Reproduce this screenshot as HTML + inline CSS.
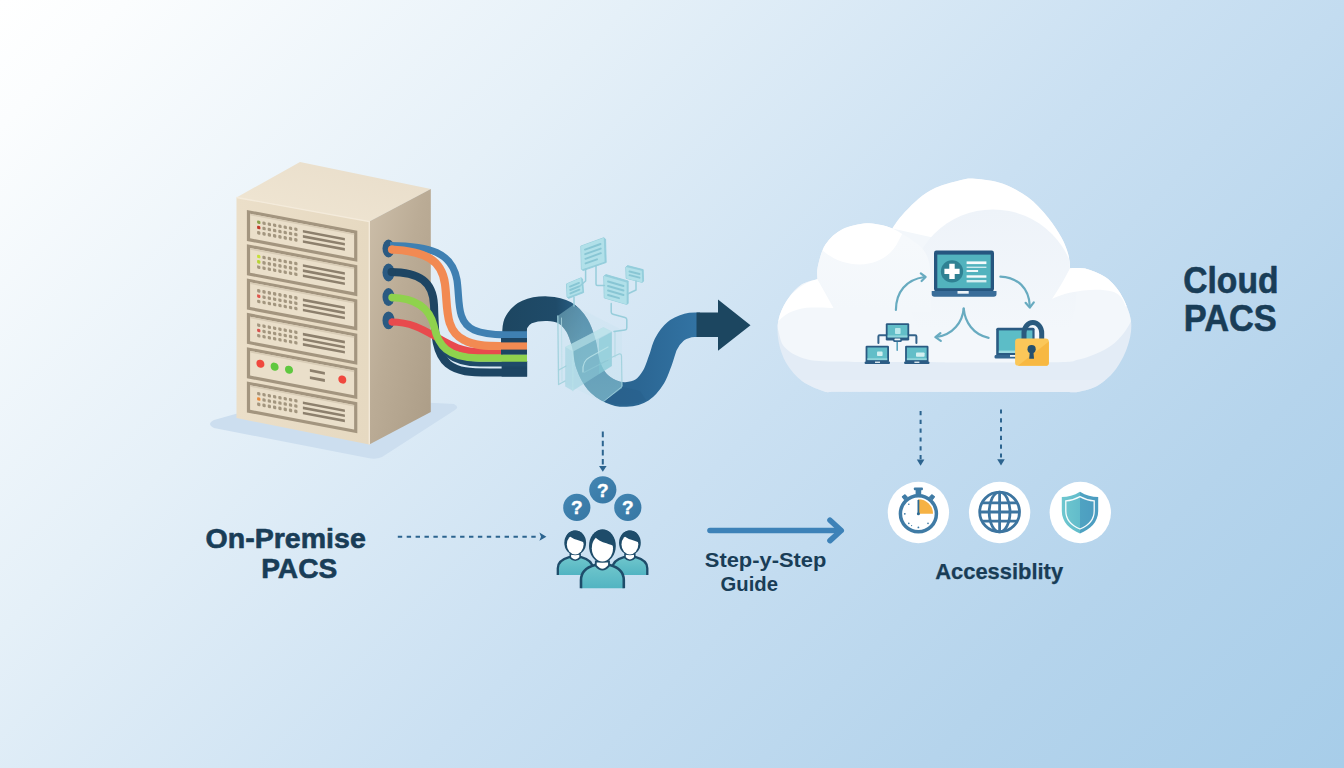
<!DOCTYPE html>
<html>
<head>
<meta charset="utf-8">
<title>On-Premise PACS to Cloud PACS</title>
<style>
  html, body { margin: 0; padding: 0; }
  body { width: 1344px; height: 768px; overflow: hidden; background: #cfe2f3; font-family: "Liberation Sans", sans-serif; }
  svg { display: block; position: absolute; left: 0; top: 0; }
  text { font-family: "Liberation Sans", sans-serif; font-weight: bold; fill: #193d57; stroke: #193d57; stroke-linejoin: round; }
</style>
</head>
<body>
<svg width="1344" height="768" viewBox="0 0 1344 768">
  <defs>
    <linearGradient id="bg" gradientUnits="userSpaceOnUse" x1="0" y1="0" x2="1056" y2="1056">
      <stop offset="0" stop-color="#ffffff"/>
      <stop offset="0.06" stop-color="#fbfdfe"/>
      <stop offset="0.30" stop-color="#e5f0f8"/>
      <stop offset="0.56" stop-color="#cae0f2"/>
      <stop offset="0.80" stop-color="#b5d4ec"/>
      <stop offset="1" stop-color="#a7cde9"/>
    </linearGradient>
    <linearGradient id="sideFace" x1="0" y1="0" x2="1" y2="1">
      <stop offset="0" stop-color="#cdbfaa"/>
      <stop offset="0.45" stop-color="#bbac96"/>
      <stop offset="1" stop-color="#ab9c86"/>
    </linearGradient>
    <linearGradient id="topFace" x1="0" y1="1" x2="1" y2="0">
      <stop offset="0" stop-color="#f0e6d3"/>
      <stop offset="1" stop-color="#e8ddca"/>
    </linearGradient>
    <linearGradient id="frontFace" x1="0" y1="0" x2="1" y2="0">
      <stop offset="0" stop-color="#ebdfc9"/>
      <stop offset="1" stop-color="#e6d9c1"/>
    </linearGradient>
    <linearGradient id="sGrad" gradientUnits="userSpaceOnUse" x1="501" y1="0" x2="697" y2="0">
      <stop offset="0" stop-color="#1d4661"/>
      <stop offset="0.28" stop-color="#1f4b69"/>
      <stop offset="0.42" stop-color="#2b648c"/>
      <stop offset="0.70" stop-color="#2b6693"/>
      <stop offset="1" stop-color="#3273a3"/>
    </linearGradient>
  </defs>

  <!-- background -->
  <rect width="1344" height="768" fill="url(#bg)"/>

  <!-- ================= SERVER ================= -->
  <g id="server">
    <path d="M214 420 L300 396 L454 404 Q460 407 455 410 L382 457 Q376 460 368 458 L214 428 Q206 424 214 420 Z" fill="#ccdeef"/>
    <polygon points="236.5,197.5 300,162 430.8,189 369.3,221.5" fill="url(#topFace)"/>
    <polygon points="369.3,221.5 430.8,189 430.8,412 369.3,444.4" fill="url(#sideFace)"/>
    <polygon points="236.5,197.5 369.3,221.5 369.3,444.4 236.5,418" fill="url(#frontFace)"/>
    <polyline points="236.5,197.5 369.3,221.5 369.3,444.4" fill="none" stroke="#f4ebdb" stroke-width="1.3"/>
    <g transform="translate(236.5,197.5) skewY(10.7)">
      <g transform="translate(10.4,10.5)">
        <rect x="0" y="0" width="110.4" height="31" fill="#a3957f"/>
        <rect x="3.2" y="3.2" width="104" height="24.6" fill="#eadfca"/>
        <rect x="3.2" y="3.2" width="104" height="1.6" fill="#d9cdb7"/>
        <rect x="10.2" y="8.4" width="3.3" height="3.3" rx="1" fill="#8aa04a"/>
        <rect x="15.5" y="8.4" width="3.3" height="3.3" rx="1" fill="#a3967f"/>
        <rect x="20.8" y="8.4" width="3.3" height="3.3" rx="1" fill="#a3967f"/>
        <rect x="26.1" y="8.4" width="3.3" height="3.3" rx="1" fill="#a3967f"/>
        <rect x="31.4" y="8.4" width="3.3" height="3.3" rx="1" fill="#a3967f"/>
        <rect x="36.7" y="8.4" width="3.3" height="3.3" rx="1" fill="#a3967f"/>
        <rect x="42.0" y="8.4" width="3.3" height="3.3" rx="1" fill="#a3967f"/>
        <rect x="47.3" y="8.4" width="3.3" height="3.3" rx="1" fill="#a3967f"/>
        <rect x="10.2" y="13.7" width="3.3" height="3.3" rx="1" fill="#c0392b"/>
        <rect x="15.5" y="13.7" width="3.3" height="3.3" rx="1" fill="#a3967f"/>
        <rect x="20.8" y="13.7" width="3.3" height="3.3" rx="1" fill="#a3967f"/>
        <rect x="26.1" y="13.7" width="3.3" height="3.3" rx="1" fill="#a3967f"/>
        <rect x="31.4" y="13.7" width="3.3" height="3.3" rx="1" fill="#a3967f"/>
        <rect x="36.7" y="13.7" width="3.3" height="3.3" rx="1" fill="#a3967f"/>
        <rect x="42.0" y="13.7" width="3.3" height="3.3" rx="1" fill="#a3967f"/>
        <rect x="47.3" y="13.7" width="3.3" height="3.3" rx="1" fill="#a3967f"/>
        <rect x="10.2" y="19.0" width="3.3" height="3.3" rx="1" fill="#a3967f"/>
        <rect x="15.5" y="19.0" width="3.3" height="3.3" rx="1" fill="#a3967f"/>
        <rect x="20.8" y="19.0" width="3.3" height="3.3" rx="1" fill="#a3967f"/>
        <rect x="26.1" y="19.0" width="3.3" height="3.3" rx="1" fill="#a3967f"/>
        <rect x="31.4" y="19.0" width="3.3" height="3.3" rx="1" fill="#a3967f"/>
        <rect x="36.7" y="19.0" width="3.3" height="3.3" rx="1" fill="#a3967f"/>
        <rect x="42.0" y="19.0" width="3.3" height="3.3" rx="1" fill="#a3967f"/>
        <rect x="47.3" y="19.0" width="3.3" height="3.3" rx="1" fill="#a3967f"/>
        <rect x="56" y="9.4" width="42" height="2.6" fill="#8d806d"/>
        <rect x="56" y="14.5" width="42" height="2.6" fill="#8d806d"/>
        <rect x="56" y="19.6" width="42" height="2.6" fill="#8d806d"/>
      </g>
      <g transform="translate(10.4,44.8)">
        <rect x="0" y="0" width="110.4" height="31" fill="#a3957f"/>
        <rect x="3.2" y="3.2" width="104" height="24.6" fill="#eadfca"/>
        <rect x="3.2" y="3.2" width="104" height="1.6" fill="#d9cdb7"/>
        <rect x="10.2" y="8.4" width="3.3" height="3.3" rx="1" fill="#c7e03a"/>
        <rect x="15.5" y="8.4" width="3.3" height="3.3" rx="1" fill="#a3967f"/>
        <rect x="20.8" y="8.4" width="3.3" height="3.3" rx="1" fill="#a3967f"/>
        <rect x="26.1" y="8.4" width="3.3" height="3.3" rx="1" fill="#a3967f"/>
        <rect x="31.4" y="8.4" width="3.3" height="3.3" rx="1" fill="#a3967f"/>
        <rect x="36.7" y="8.4" width="3.3" height="3.3" rx="1" fill="#a3967f"/>
        <rect x="42.0" y="8.4" width="3.3" height="3.3" rx="1" fill="#a3967f"/>
        <rect x="47.3" y="8.4" width="3.3" height="3.3" rx="1" fill="#a3967f"/>
        <rect x="10.2" y="13.7" width="3.3" height="3.3" rx="1" fill="#b7d433"/>
        <rect x="15.5" y="13.7" width="3.3" height="3.3" rx="1" fill="#a3967f"/>
        <rect x="20.8" y="13.7" width="3.3" height="3.3" rx="1" fill="#a3967f"/>
        <rect x="26.1" y="13.7" width="3.3" height="3.3" rx="1" fill="#a3967f"/>
        <rect x="31.4" y="13.7" width="3.3" height="3.3" rx="1" fill="#a3967f"/>
        <rect x="36.7" y="13.7" width="3.3" height="3.3" rx="1" fill="#a3967f"/>
        <rect x="42.0" y="13.7" width="3.3" height="3.3" rx="1" fill="#a3967f"/>
        <rect x="47.3" y="13.7" width="3.3" height="3.3" rx="1" fill="#a3967f"/>
        <rect x="10.2" y="19.0" width="3.3" height="3.3" rx="1" fill="#a3967f"/>
        <rect x="15.5" y="19.0" width="3.3" height="3.3" rx="1" fill="#a3967f"/>
        <rect x="20.8" y="19.0" width="3.3" height="3.3" rx="1" fill="#a3967f"/>
        <rect x="26.1" y="19.0" width="3.3" height="3.3" rx="1" fill="#a3967f"/>
        <rect x="31.4" y="19.0" width="3.3" height="3.3" rx="1" fill="#a3967f"/>
        <rect x="36.7" y="19.0" width="3.3" height="3.3" rx="1" fill="#a3967f"/>
        <rect x="42.0" y="19.0" width="3.3" height="3.3" rx="1" fill="#a3967f"/>
        <rect x="47.3" y="19.0" width="3.3" height="3.3" rx="1" fill="#a3967f"/>
        <rect x="56" y="9.4" width="42" height="2.6" fill="#8d806d"/>
        <rect x="56" y="14.5" width="42" height="2.6" fill="#8d806d"/>
        <rect x="56" y="19.6" width="42" height="2.6" fill="#8d806d"/>
      </g>
      <g transform="translate(10.4,79.1)">
        <rect x="0" y="0" width="110.4" height="31" fill="#a3957f"/>
        <rect x="3.2" y="3.2" width="104" height="24.6" fill="#eadfca"/>
        <rect x="3.2" y="3.2" width="104" height="1.6" fill="#d9cdb7"/>
        <rect x="10.2" y="8.4" width="3.3" height="3.3" rx="1" fill="#a3967f"/>
        <rect x="15.5" y="8.4" width="3.3" height="3.3" rx="1" fill="#a3967f"/>
        <rect x="20.8" y="8.4" width="3.3" height="3.3" rx="1" fill="#a3967f"/>
        <rect x="26.1" y="8.4" width="3.3" height="3.3" rx="1" fill="#a3967f"/>
        <rect x="31.4" y="8.4" width="3.3" height="3.3" rx="1" fill="#a3967f"/>
        <rect x="36.7" y="8.4" width="3.3" height="3.3" rx="1" fill="#a3967f"/>
        <rect x="42.0" y="8.4" width="3.3" height="3.3" rx="1" fill="#a3967f"/>
        <rect x="47.3" y="8.4" width="3.3" height="3.3" rx="1" fill="#a3967f"/>
        <rect x="10.2" y="13.7" width="3.3" height="3.3" rx="1" fill="#e0564c"/>
        <rect x="15.5" y="13.7" width="3.3" height="3.3" rx="1" fill="#a3967f"/>
        <rect x="20.8" y="13.7" width="3.3" height="3.3" rx="1" fill="#a3967f"/>
        <rect x="26.1" y="13.7" width="3.3" height="3.3" rx="1" fill="#a3967f"/>
        <rect x="31.4" y="13.7" width="3.3" height="3.3" rx="1" fill="#a3967f"/>
        <rect x="36.7" y="13.7" width="3.3" height="3.3" rx="1" fill="#a3967f"/>
        <rect x="42.0" y="13.7" width="3.3" height="3.3" rx="1" fill="#a3967f"/>
        <rect x="47.3" y="13.7" width="3.3" height="3.3" rx="1" fill="#a3967f"/>
        <rect x="10.2" y="19.0" width="3.3" height="3.3" rx="1" fill="#a3967f"/>
        <rect x="15.5" y="19.0" width="3.3" height="3.3" rx="1" fill="#a3967f"/>
        <rect x="20.8" y="19.0" width="3.3" height="3.3" rx="1" fill="#a3967f"/>
        <rect x="26.1" y="19.0" width="3.3" height="3.3" rx="1" fill="#a3967f"/>
        <rect x="31.4" y="19.0" width="3.3" height="3.3" rx="1" fill="#a3967f"/>
        <rect x="36.7" y="19.0" width="3.3" height="3.3" rx="1" fill="#a3967f"/>
        <rect x="42.0" y="19.0" width="3.3" height="3.3" rx="1" fill="#a3967f"/>
        <rect x="47.3" y="19.0" width="3.3" height="3.3" rx="1" fill="#a3967f"/>
        <rect x="56" y="9.4" width="42" height="2.6" fill="#8d806d"/>
        <rect x="56" y="14.5" width="42" height="2.6" fill="#8d806d"/>
        <rect x="56" y="19.6" width="42" height="2.6" fill="#8d806d"/>
      </g>
      <g transform="translate(10.4,113.4)">
        <rect x="0" y="0" width="110.4" height="31" fill="#a3957f"/>
        <rect x="3.2" y="3.2" width="104" height="24.6" fill="#eadfca"/>
        <rect x="3.2" y="3.2" width="104" height="1.6" fill="#d9cdb7"/>
        <rect x="10.2" y="8.4" width="3.3" height="3.3" rx="1" fill="#a3967f"/>
        <rect x="15.5" y="8.4" width="3.3" height="3.3" rx="1" fill="#a3967f"/>
        <rect x="20.8" y="8.4" width="3.3" height="3.3" rx="1" fill="#a3967f"/>
        <rect x="26.1" y="8.4" width="3.3" height="3.3" rx="1" fill="#a3967f"/>
        <rect x="31.4" y="8.4" width="3.3" height="3.3" rx="1" fill="#a3967f"/>
        <rect x="36.7" y="8.4" width="3.3" height="3.3" rx="1" fill="#a3967f"/>
        <rect x="42.0" y="8.4" width="3.3" height="3.3" rx="1" fill="#a3967f"/>
        <rect x="47.3" y="8.4" width="3.3" height="3.3" rx="1" fill="#a3967f"/>
        <rect x="10.2" y="13.7" width="3.3" height="3.3" rx="1" fill="#d9534f"/>
        <rect x="15.5" y="13.7" width="3.3" height="3.3" rx="1" fill="#a3967f"/>
        <rect x="20.8" y="13.7" width="3.3" height="3.3" rx="1" fill="#a3967f"/>
        <rect x="26.1" y="13.7" width="3.3" height="3.3" rx="1" fill="#a3967f"/>
        <rect x="31.4" y="13.7" width="3.3" height="3.3" rx="1" fill="#a3967f"/>
        <rect x="36.7" y="13.7" width="3.3" height="3.3" rx="1" fill="#a3967f"/>
        <rect x="42.0" y="13.7" width="3.3" height="3.3" rx="1" fill="#a3967f"/>
        <rect x="47.3" y="13.7" width="3.3" height="3.3" rx="1" fill="#a3967f"/>
        <rect x="10.2" y="19.0" width="3.3" height="3.3" rx="1" fill="#a3967f"/>
        <rect x="15.5" y="19.0" width="3.3" height="3.3" rx="1" fill="#a3967f"/>
        <rect x="20.8" y="19.0" width="3.3" height="3.3" rx="1" fill="#a3967f"/>
        <rect x="26.1" y="19.0" width="3.3" height="3.3" rx="1" fill="#a3967f"/>
        <rect x="31.4" y="19.0" width="3.3" height="3.3" rx="1" fill="#a3967f"/>
        <rect x="36.7" y="19.0" width="3.3" height="3.3" rx="1" fill="#a3967f"/>
        <rect x="42.0" y="19.0" width="3.3" height="3.3" rx="1" fill="#a3967f"/>
        <rect x="47.3" y="19.0" width="3.3" height="3.3" rx="1" fill="#a3967f"/>
        <rect x="56" y="9.4" width="42" height="2.6" fill="#8d806d"/>
        <rect x="56" y="14.5" width="42" height="2.6" fill="#8d806d"/>
        <rect x="56" y="19.6" width="42" height="2.6" fill="#8d806d"/>
      </g>
      <g transform="translate(10.4,147.7)">
        <rect x="0" y="0" width="110.4" height="31" fill="#a3957f"/>
        <rect x="3.2" y="3.2" width="104" height="24.6" fill="#eadfca"/>
        <rect x="3.2" y="3.2" width="104" height="1.6" fill="#d9cdb7"/>
        <circle cx="13.5" cy="14" r="4" fill="#f0483e"/>
        <circle cx="27.7" cy="14.3" r="4" fill="#5fc83f"/>
        <circle cx="42.1" cy="14.6" r="4" fill="#5fc83f"/>
        <rect x="63" y="10" width="15" height="2.8" fill="#8d806d"/>
        <rect x="63" y="17.2" width="15" height="2.8" fill="#8d806d"/>
        <circle cx="95.4" cy="14.4" r="4" fill="#f0483e"/>
      </g>
      <g transform="translate(10.4,182.0)">
        <rect x="0" y="0" width="110.4" height="31" fill="#a3957f"/>
        <rect x="3.2" y="3.2" width="104" height="24.6" fill="#eadfca"/>
        <rect x="3.2" y="3.2" width="104" height="1.6" fill="#d9cdb7"/>
        <rect x="10.2" y="8.4" width="3.3" height="3.3" rx="1" fill="#a3967f"/>
        <rect x="15.5" y="8.4" width="3.3" height="3.3" rx="1" fill="#a3967f"/>
        <rect x="20.8" y="8.4" width="3.3" height="3.3" rx="1" fill="#a3967f"/>
        <rect x="26.1" y="8.4" width="3.3" height="3.3" rx="1" fill="#a3967f"/>
        <rect x="31.4" y="8.4" width="3.3" height="3.3" rx="1" fill="#a3967f"/>
        <rect x="36.7" y="8.4" width="3.3" height="3.3" rx="1" fill="#a3967f"/>
        <rect x="42.0" y="8.4" width="3.3" height="3.3" rx="1" fill="#a3967f"/>
        <rect x="47.3" y="8.4" width="3.3" height="3.3" rx="1" fill="#a3967f"/>
        <rect x="10.2" y="13.7" width="3.3" height="3.3" rx="1" fill="#e8893a"/>
        <rect x="15.5" y="13.7" width="3.3" height="3.3" rx="1" fill="#a3967f"/>
        <rect x="20.8" y="13.7" width="3.3" height="3.3" rx="1" fill="#a3967f"/>
        <rect x="26.1" y="13.7" width="3.3" height="3.3" rx="1" fill="#a3967f"/>
        <rect x="31.4" y="13.7" width="3.3" height="3.3" rx="1" fill="#a3967f"/>
        <rect x="36.7" y="13.7" width="3.3" height="3.3" rx="1" fill="#a3967f"/>
        <rect x="42.0" y="13.7" width="3.3" height="3.3" rx="1" fill="#a3967f"/>
        <rect x="47.3" y="13.7" width="3.3" height="3.3" rx="1" fill="#a3967f"/>
        <rect x="10.2" y="19.0" width="3.3" height="3.3" rx="1" fill="#a3967f"/>
        <rect x="15.5" y="19.0" width="3.3" height="3.3" rx="1" fill="#a3967f"/>
        <rect x="20.8" y="19.0" width="3.3" height="3.3" rx="1" fill="#a3967f"/>
        <rect x="26.1" y="19.0" width="3.3" height="3.3" rx="1" fill="#a3967f"/>
        <rect x="31.4" y="19.0" width="3.3" height="3.3" rx="1" fill="#a3967f"/>
        <rect x="36.7" y="19.0" width="3.3" height="3.3" rx="1" fill="#a3967f"/>
        <rect x="42.0" y="19.0" width="3.3" height="3.3" rx="1" fill="#a3967f"/>
        <rect x="47.3" y="19.0" width="3.3" height="3.3" rx="1" fill="#a3967f"/>
        <rect x="56" y="9.4" width="42" height="2.6" fill="#8d806d"/>
        <rect x="56" y="14.5" width="42" height="2.6" fill="#8d806d"/>
        <rect x="56" y="19.6" width="42" height="2.6" fill="#8d806d"/>
      </g>
    </g>
    <ellipse cx="388.5" cy="248.5" rx="6" ry="8.9" fill="#2a5a82"/>
    <ellipse cx="388.5" cy="272.5" rx="6" ry="8.9" fill="#2a5a82"/>
    <ellipse cx="388.5" cy="297" rx="6" ry="8.9" fill="#2a5a82"/>
    <ellipse cx="388.5" cy="320.4" rx="6" ry="8.9" fill="#2a5a82"/>
  </g>

  <!-- ================= S-CURVE ARROW ================= -->
  <g id="sarrow">
    <defs>
      <linearGradient id="tintG" gradientUnits="userSpaceOnUse" x1="0" y1="305" x2="0" y2="402">
        <stop offset="0" stop-color="#74bccb" stop-opacity="0.30"/>
        <stop offset="0.45" stop-color="#7cc3d1" stop-opacity="0.44"/>
        <stop offset="1" stop-color="#80c6d3" stop-opacity="0.52"/>
      </linearGradient>
      <clipPath id="glassClip"><polygon points="557.6,316 573,305 622,330 622,388 603,402 557.6,380"/></clipPath>
    </defs>
    <path d="M514.5 345.0 C514.5 343.0 514.2 336.8 514.5 333.0 C514.8 329.2 514.4 325.5 516.5 322.0 C518.6 318.5 521.8 314.2 527.0 312.0 C532.2 309.8 541.2 308.5 547.5 308.7 C553.8 308.9 560.1 310.2 565.0 313.0 C569.9 315.8 573.8 320.3 577.0 325.5 C580.2 330.7 582.2 337.5 584.0 344.0 C585.8 350.5 585.8 358.2 588.0 364.5 C590.2 370.8 593.2 377.0 597.0 381.5 C600.8 386.0 606.2 389.3 611.0 391.5 C615.8 393.7 620.8 394.8 626.0 394.5 C631.2 394.2 637.4 392.9 642.0 390.0 C646.6 387.1 650.4 382.0 653.5 377.0 C656.6 372.0 658.4 365.5 660.5 360.0 C662.6 354.5 663.5 348.8 666.0 344.0 C668.5 339.2 671.8 334.6 675.5 331.5 C679.2 328.4 684.4 326.7 688.0 325.6 C691.6 324.5 695.0 324.9 697.0 324.8 C699.0 324.7 699.5 324.8 700.0 324.8" fill="none" stroke="url(#sGrad)" stroke-width="24.6"/>
    <rect x="501.6" y="361" width="25.6" height="15.6" fill="#1d4563"/>
    <!-- darker fold at bottom of U -->
    <path d="M603 401.5 L622 386.8 L640 391 L646 400 Q626 408 603 401.5 Z" fill="#235a84" opacity="0.28"/>
    <!-- tinted part of ribbon behind glass -->
    <path d="M514.5 345.0 C514.5 343.0 514.2 336.8 514.5 333.0 C514.8 329.2 514.4 325.5 516.5 322.0 C518.6 318.5 521.8 314.2 527.0 312.0 C532.2 309.8 541.2 308.5 547.5 308.7 C553.8 308.9 560.1 310.2 565.0 313.0 C569.9 315.8 573.8 320.3 577.0 325.5 C580.2 330.7 582.2 337.5 584.0 344.0 C585.8 350.5 585.8 358.2 588.0 364.5 C590.2 370.8 593.2 377.0 597.0 381.5 C600.8 386.0 606.2 389.3 611.0 391.5 C615.8 393.7 620.8 394.8 626.0 394.5 C631.2 394.2 637.4 392.9 642.0 390.0 C646.6 387.1 650.4 382.0 653.5 377.0 C656.6 372.0 658.4 365.5 660.5 360.0 C662.6 354.5 663.5 348.8 666.0 344.0 C668.5 339.2 671.8 334.6 675.5 331.5 C679.2 328.4 684.4 326.7 688.0 325.6 C691.6 324.5 695.0 324.9 697.0 324.8 C699.0 324.7 699.5 324.8 700.0 324.8" fill="none" stroke="url(#tintG)" stroke-width="24.6" clip-path="url(#glassClip)"/>
    <!-- arrow tail + head -->
    <path d="M696.5 312.5 L718 312.5 L718 299.5 L750.5 325.3 L718 350.8 L718 337 L696.5 337 Z" fill="#1c4660"/>
  </g>


  <!-- ================= CABLES ================= -->
  <g id="cables" fill="none" stroke-linecap="butt">
    <!-- navy (port 2) lower branch -->
    <path d="M390 272 C 420 272, 433 282, 434 305 C 435 330, 434 352, 448 364 C 458 372, 470 372.5, 490 372.5 L 527 372.5" stroke="#1d4563" stroke-width="8"/>
    <!-- navy upper branch -->
    <path d="M436 330 C 438 352, 452 364, 480 364 L 527 364" stroke="#1f4a69" stroke-width="5"/>
    <!-- red (port 4) -->
    <path d="M391 322 C 412 322, 424 330, 438 338 C 452 346, 462 351.5, 480 351.8 L 503 352" stroke="#e84a4d" stroke-width="7.2"/>
    <!-- green (port 3) -->
    <path d="M391 297.5 C 418 298, 430 310, 434 326 C 438 346, 448 357.5, 478 358 L 527 358" stroke="#8fd24d" stroke-width="7.4"/>
    <!-- blue (port 1, behind orange) -->
    <path d="M390 245.5 C 430 246, 452 252, 457 280 C 460 300, 456 322, 474 330 C 484 334.5, 494 334.8, 505 334.8 L 527 334.8" stroke="#3f80b2" stroke-width="7.2"/>
    <!-- orange (port 1) -->
    <path d="M391 249.5 C 425 251, 442 260, 445 284 C 448 306, 444 330, 464 340 C 474 345.5, 486 346, 500 346 L 527 346" stroke="#f28a52" stroke-width="8.2"/>
    <!-- rounded cable starts -->
    <circle cx="391.5" cy="272" r="4" fill="#1d4563" stroke="none"/>
    <circle cx="392" cy="322" r="3.6" fill="#e84a4d" stroke="none"/>
    <circle cx="392" cy="297.5" r="3.7" fill="#8fd24d" stroke="none"/>
    <circle cx="392" cy="249.5" r="4.1" fill="#f28a52" stroke="none"/>
    <!-- dark gaps in bundle near S -->
    <rect x="501" y="338" width="26" height="4.4" fill="#1d4563" stroke="none"/>
    <rect x="501" y="349.6" width="26" height="5" fill="#1d4563" stroke="none"/>
  </g>
  <!-- ================= GLASS SERVER OVERLAY ================= -->
  <g id="glass" stroke-linejoin="round" stroke-linecap="round">
    <!-- tall back panel -->
    <polygon points="557.6,316 573,305 622,330 622,388 603,402 557.6,380" fill="#bfe3ea" fill-opacity="0.20"/>
    <path d="M557.8 316 L558.6 384.5 L565 381" fill="none" stroke="#9fd0dc" stroke-width="1.3" stroke-opacity="0.9"/>
    <path d="M561.5 318 L562 381" fill="none" stroke="#b5dde6" stroke-width="0.9" stroke-opacity="0.8"/>
    <!-- front block -->
    <polygon points="565.2,347 603.3,327.3 611.8,331.5 611.8,366 572.8,390.8 565.2,386.5" fill="#93cfdb" fill-opacity="0.5"/>
    <polygon points="565.2,347 603.3,327.3 611.8,331.5 573,351.5" fill="#c9ebef" fill-opacity="0.5"/>
    <polygon points="599,339 611.8,332 611.8,366 599,374" fill="#7fc8d4" fill-opacity="0.5"/>
    <path d="M573 351.5 L572.8 390.8" fill="none" stroke="#b9e2e8" stroke-width="1" stroke-opacity="0.8"/>
    <!-- inner slot outline -->
    <path d="M583 372 Q582 361 590 357 L608 347" fill="none" stroke="#b9e2e8" stroke-width="1.2" stroke-opacity="0.85"/>
    <path d="M584 372.5 L608 360" fill="none" stroke="#8cc6d3" stroke-width="1.2" stroke-opacity="0.8"/>
    <!-- loop outline on right -->
    <path d="M558.8 370 L566 366 M606 360 L619 354 Q621.5 353.5 621.5 356 L622 386" fill="none" stroke="#9fd0dc" stroke-width="1.2" stroke-opacity="0.9"/>
    <path d="M615 332 L615 357" fill="none" stroke="#a9d6e0" stroke-width="1" stroke-opacity="0.8"/>
    <!-- bottom-right glass edge highlight on ribbon -->
    <path d="M603.3 401.8 L622 386.5" fill="none" stroke="#a7d5df" stroke-width="1" stroke-opacity="0.7"/>

    <!-- floating boxes -->
    <g fill="#8ecbd9" fill-opacity="0.9" stroke="#8ecbd9" stroke-width="0.8">
      <polygon points="581.1,246 603.8,237.7 605.6,239.2 606.2,262.5 583.2,270.6 581.7,269.5"/>
      <polygon points="566.8,283.8 581.1,277.8 582.6,279 583.6,292.6 568.6,298.4 567.3,297.3"/>
      <polygon points="604,276 606,274.6 628.2,281 628.2,303.4 626.7,304.4 604.6,298"/>
      <polygon points="626,266.9 627.6,265.6 643.2,269.6 643.6,281 642.3,282.4 626.5,278.4"/>
    </g>
    <g fill="#b2e0e9" fill-opacity="0.95" stroke="none">
      <polygon points="581.1,246 603.8,237.7 604.6,261.7 581.7,269.5"/>
      <polygon points="566.8,283.8 581.1,277.8 582.4,291.6 567.3,297.3"/>
      <polygon points="604,276 626.7,282.5 626.7,304.4 604.6,298"/>
      <polygon points="626,266.9 641.8,270.8 642.3,282.4 626.5,278.4"/>
    </g>
    <!-- lines on boxes -->
    <g stroke="#86c4d3" stroke-width="1.9" stroke-opacity="0.95" fill="none">
      <path d="M585 249.6 L600.5 244 M585.2 254.2 L600.7 248.6 M585.4 258.8 L600.9 253.2 M585.6 263.4 L597 259.3"/>
      <path d="M570 286.6 L579 282.9 M570.2 290 L579.2 286.3 M570.4 293.4 L579.4 289.7"/>
      <path d="M608 281.5 L623.5 286 M608 286 L623.5 290.5 M608 290.5 L623.5 295 M608 295 L619 298.2"/>
      <path d="M629.5 271.5 L639.5 274 M629.5 275.2 L639.5 277.7"/>
    </g>
    <!-- connector wires -->
    <g stroke="#93cbd9" stroke-width="1.5" fill="none" stroke-opacity="0.95">
      <path d="M585.6 269 L585.6 281 L580 286"/>
      <path d="M596 266 L596 284 Q596 285.5 597.5 285.5 L604.4 285.5"/>
      <path d="M636 281 L636 290 L627.5 294"/>
      <path d="M611.2 303.5 L611.2 312 Q611.2 313.8 613 314.3 L625 317.4 Q626.8 317.9 626.8 319.8 L626.8 328 Q626.8 329.8 625 330 L614 331.5"/>
      <path d="M574 297.6 L574 306"/>
    </g>
  </g>

  <!-- ================= CLOUD ================= -->
  <g id="cloud">
    <defs>
      <clipPath id="cloudClip"><path d="M832 391.8 C830.6 391.7 828.6 393.1 823.6 391.3 C818.6 389.5 808.2 385.6 802.0 381.0 C795.8 376.4 790.4 370.0 786.5 363.5 C782.6 357.0 780.1 349.1 778.7 342.0 C777.3 334.9 777.0 327.4 778.3 320.6 C779.6 313.8 782.9 306.9 786.5 301.0 C790.1 295.1 795.1 289.0 800.2 285.4 C805.4 281.8 814.5 280.2 817.4 279.1 C817.5 277.0 816.5 272.3 817.8 266.5 C819.1 260.7 821.3 250.7 825.4 244.5 C829.5 238.3 835.5 232.8 842.3 229.3 C849.1 225.8 859.5 224.0 866.0 223.3 C872.5 222.6 876.9 224.2 881.3 225.0 C885.7 225.8 890.5 227.8 892.3 228.4 C893.8 226.3 897.2 220.6 901.6 215.7 C906.0 210.8 912.9 203.5 918.5 198.8 C924.1 194.2 928.6 190.9 935.5 187.8 C942.4 184.7 953.4 181.7 960.0 180.2 C966.6 178.7 968.2 178.2 975.2 178.8 C982.2 179.4 993.5 180.4 1002.3 183.5 C1011.0 186.6 1020.1 191.4 1027.7 197.1 C1035.3 202.8 1042.3 210.6 1048.0 217.4 C1053.7 224.2 1058.2 231.5 1061.6 237.7 C1065.0 243.9 1067.0 249.6 1068.4 254.7 C1069.8 259.8 1069.7 265.9 1070.0 268.2 C1072.9 268.4 1081.1 267.4 1087.5 269.2 C1093.9 271.0 1102.4 274.4 1108.3 279.2 C1114.2 284.0 1119.1 290.6 1122.9 297.9 C1126.7 305.2 1130.5 314.6 1131.2 322.9 C1131.9 331.2 1129.8 339.9 1127.0 347.9 C1124.2 355.9 1119.4 364.6 1114.6 370.8 C1109.8 377.1 1103.8 381.9 1097.9 385.4 C1092.0 388.9 1084.0 390.6 1079.0 391.7 C1074.0 392.8 1069.8 391.9 1068.0 392.0 Z"/></clipPath>
      <clipPath id="bumpClip"><path d="M892.3 228.4 C893.8 226.3 897.2 220.6 901.6 215.7 C906.0 210.8 912.9 203.5 918.5 198.8 C924.1 194.2 928.6 190.9 935.5 187.8 C942.4 184.7 953.4 181.7 960.0 180.2 C966.6 178.7 968.2 178.2 975.2 178.8 C982.2 179.4 993.5 180.4 1002.3 183.5 C1011.0 186.6 1020.1 191.4 1027.7 197.1 C1035.3 202.8 1042.3 210.6 1048.0 217.4 C1053.7 224.2 1058.2 231.5 1061.6 237.7 C1065.0 243.9 1067.0 249.6 1068.4 254.7 C1069.8 259.8 1069.7 265.9 1070.0 268.2 Z"/></clipPath>
      <clipPath id="leftBumpClip"><path d="M817.4 279.1 C817.5 277.0 816.5 272.3 817.8 266.5 C819.1 260.7 821.3 250.7 825.4 244.5 C829.5 238.3 835.5 232.8 842.3 229.3 C849.1 225.8 859.5 224.0 866.0 223.3 C872.5 222.6 876.9 224.2 881.3 225.0 C885.7 225.8 888.3 226.7 892.3 228.4 C896.2 230.2 901.0 233.1 905.0 235.5 C909.0 237.9 912.9 240.6 916.0 243.0 C919.1 245.4 921.3 246.8 923.5 250.0 C925.7 253.2 927.8 257.0 929.0 262.0 C930.2 267.0 930.7 277.0 931.0 280.0 L931 312 L838 312 Z"/></clipPath>
      <clipPath id="upperClip"><path d="M760 160 L770 300 C771.3 304.7 775.3 320.6 777.7 328.4 C780.1 336.2 780.1 342.0 784.5 347.0 C788.9 352.0 795.9 356.0 804.0 358.4 C812.1 360.8 817.4 361.0 833.4 361.6 C849.4 362.2 863.9 361.9 900.0 362.0 C936.1 362.1 1020.2 362.6 1050.0 362.2 C1079.8 361.8 1070.7 361.1 1079.0 359.4 C1087.3 357.7 1094.1 354.7 1100.0 352.0 C1105.9 349.3 1110.3 346.7 1114.6 343.0 C1118.9 339.3 1122.8 334.7 1126.0 330.0 C1129.2 325.3 1131.7 320.0 1134.0 315.0 C1136.3 310.0 1139.0 302.5 1140.0 300.0 L1150 160 Z"/></clipPath>
      <linearGradient id="discG" gradientUnits="userSpaceOnUse" x1="0" y1="209" x2="0" y2="330">
        <stop offset="0" stop-color="#eef3f9"/>
        <stop offset="1" stop-color="#f3f7fb"/>
      </linearGradient>
      <linearGradient id="lbG" gradientUnits="userSpaceOnUse" x1="0" y1="240" x2="0" y2="310">
        <stop offset="0" stop-color="#f6f9fc"/>
        <stop offset="1" stop-color="#f3f7fb"/>
      </linearGradient>
    </defs>
    <path d="M832 391.8 C830.6 391.7 828.6 393.1 823.6 391.3 C818.6 389.5 808.2 385.6 802.0 381.0 C795.8 376.4 790.4 370.0 786.5 363.5 C782.6 357.0 780.1 349.1 778.7 342.0 C777.3 334.9 777.0 327.4 778.3 320.6 C779.6 313.8 782.9 306.9 786.5 301.0 C790.1 295.1 795.1 289.0 800.2 285.4 C805.4 281.8 814.5 280.2 817.4 279.1 C817.5 277.0 816.5 272.3 817.8 266.5 C819.1 260.7 821.3 250.7 825.4 244.5 C829.5 238.3 835.5 232.8 842.3 229.3 C849.1 225.8 859.5 224.0 866.0 223.3 C872.5 222.6 876.9 224.2 881.3 225.0 C885.7 225.8 890.5 227.8 892.3 228.4 C893.8 226.3 897.2 220.6 901.6 215.7 C906.0 210.8 912.9 203.5 918.5 198.8 C924.1 194.2 928.6 190.9 935.5 187.8 C942.4 184.7 953.4 181.7 960.0 180.2 C966.6 178.7 968.2 178.2 975.2 178.8 C982.2 179.4 993.5 180.4 1002.3 183.5 C1011.0 186.6 1020.1 191.4 1027.7 197.1 C1035.3 202.8 1042.3 210.6 1048.0 217.4 C1053.7 224.2 1058.2 231.5 1061.6 237.7 C1065.0 243.9 1067.0 249.6 1068.4 254.7 C1069.8 259.8 1069.7 265.9 1070.0 268.2 C1072.9 268.4 1081.1 267.4 1087.5 269.2 C1093.9 271.0 1102.4 274.4 1108.3 279.2 C1114.2 284.0 1119.1 290.6 1122.9 297.9 C1126.7 305.2 1130.5 314.6 1131.2 322.9 C1131.9 331.2 1129.8 339.9 1127.0 347.9 C1124.2 355.9 1119.4 364.6 1114.6 370.8 C1109.8 377.1 1103.8 381.9 1097.9 385.4 C1092.0 388.9 1084.0 390.6 1079.0 391.7 C1074.0 392.8 1069.8 391.9 1068.0 392.0 Z" fill="#e3ecf6"/>
    <g clip-path="url(#cloudClip)">
      <!-- upper body -->
      <path d="M760 160 L770 300 C771.3 304.7 775.3 320.6 777.7 328.4 C780.1 336.2 780.1 342.0 784.5 347.0 C788.9 352.0 795.9 356.0 804.0 358.4 C812.1 360.8 817.4 361.0 833.4 361.6 C849.4 362.2 863.9 361.9 900.0 362.0 C936.1 362.1 1020.2 362.6 1050.0 362.2 C1079.8 361.8 1070.7 361.1 1079.0 359.4 C1087.3 357.7 1094.1 354.7 1100.0 352.0 C1105.9 349.3 1110.3 346.7 1114.6 343.0 C1118.9 339.3 1122.8 334.7 1126.0 330.0 C1129.2 325.3 1131.7 320.0 1134.0 315.0 C1136.3 310.0 1139.0 302.5 1140.0 300.0 L1150 160 Z" fill="#f3f7fb"/>
      <!-- bottom soft lightening -->
      <rect x="770" y="380" width="370" height="14" fill="#e8f0f8" opacity="0.7"/>
      <!-- far-left lobe highlight -->
      <path d="M817.4 279.1 C 800 283, 781 300, 778.3 321.5 C 786 312, 798 308, 812 307.5 C 820 307.2, 828 307.6, 833.5 308 Z" fill="#ffffff" opacity="0.95"/>
      <!-- big bump: white rim then inner disc -->
      <g clip-path="url(#bumpClip)">
        <rect x="885" y="170" width="195" height="110" fill="#ffffff"/>
      </g>
      <g clip-path="url(#upperClip)"><ellipse cx="993" cy="293.7" rx="83.4" ry="84.3" fill="url(#discG)"/></g>
      <!-- left bump body + lens highlight -->
      <path d="M817.4 279.1 C817.5 277.0 816.5 272.3 817.8 266.5 C819.1 260.7 821.3 250.7 825.4 244.5 C829.5 238.3 835.5 232.8 842.3 229.3 C849.1 225.8 859.5 224.0 866.0 223.3 C872.5 222.6 876.9 224.2 881.3 225.0 C885.7 225.8 888.3 226.7 892.3 228.4 C896.2 230.2 901.0 233.1 905.0 235.5 C909.0 237.9 912.9 240.6 916.0 243.0 C919.1 245.4 921.3 246.8 923.5 250.0 C925.7 253.2 927.8 257.0 929.0 262.0 C930.2 267.0 930.7 277.0 931.0 280.0 L931 312 L838 312 Z" fill="url(#lbG)"/>
      <g clip-path="url(#leftBumpClip)">
        <path d="M812 238 C 822 254, 840 264.6, 860 264.4 C 879 264, 893 254, 899 240 L912 215 L812 215 Z" fill="#ffffff"/>
      </g>
      <!-- right lobe highlight (drawn over disc) -->
      <path d="M1070 268.2 L1090 262 L1120 268 L1140 300 L1125.5 306.5 C 1123 298, 1119 293.5, 1112 291.6 C 1104 289.6, 1094 289.4, 1083.3 290.6 C 1070 292.2, 1060 295, 1052 299 C 1058 290, 1064 280, 1070 268.2 Z" fill="#ffffff" opacity="0.96"/>
      <!-- re-blend lower parts of discs into body -->
      <rect x="817" y="296" width="262" height="50" fill="#f3f7fb" opacity="0.0"/>
    </g>

    <!-- main laptop -->
    <rect x="934" y="250.5" width="60" height="41" rx="2.4" fill="#26567f"/>
    <rect x="937.3" y="254.6" width="53.4" height="33.6" fill="#52b3be"/>
    <path d="M931.7 291 L996.5 291 L996.5 294 Q996.5 296.8 993.7 296.8 L934.5 296.8 Q931.7 296.8 931.7 294 Z" fill="#3a6d99"/>
    <rect x="957.5" y="291" width="11.2" height="2.7" fill="#eef4f8"/>
    <circle cx="952" cy="271.4" r="11.1" fill="#2f8193"/>
    <path d="M949.3 263.8 h5.4 v4.9 h4.9 v5.4 h-4.9 v4.9 h-5.4 v-4.9 h-4.9 v-5.4 h4.9 Z" fill="#ffffff"/>
    <g fill="#ffffff">
      <rect x="966.6" y="261.4" width="19.8" height="2.7" opacity="0.95"/>
      <rect x="966.6" y="266.6" width="19.8" height="1.4" opacity="0.7"/>
      <rect x="966.6" y="270" width="11.5" height="2" opacity="0.9"/>
      <rect x="966.6" y="275.3" width="19.8" height="2.4" opacity="0.95"/>
      <rect x="966.6" y="280" width="19.8" height="2.4" opacity="0.75"/>
    </g>

    <!-- flow arrows -->
    <g fill="none" stroke="#68abc0" stroke-width="2.2" stroke-linecap="round" stroke-linejoin="round">
      <path d="M895.9 310 C 896 292, 906 279.5, 924.5 277"/>
      <path d="M920.8 273.4 L925.6 277 L921.6 281"/>
      <path d="M1000.4 276.6 C 1018 277.5, 1029 288, 1029.8 306"/>
      <path d="M1025.6 302.8 L1029.8 307.6 L1033.8 302.4"/>
      <path d="M963.7 308.6 C 962.5 322, 953 335, 936.5 337"/>
      <path d="M963.7 308.6 C 965 322, 973 334.5, 988.6 337.8"/>
      <path d="M940.4 333.2 L935.4 337.2 L940.8 340.8"/>
    </g>

    <!-- small monitors network -->
    <g>
      <g fill="none" stroke="#34638a" stroke-width="2" stroke-linejoin="round" stroke-linecap="round">
        <path d="M886 335.2 L879.6 335.2 Q878.4 335.2 878.4 336.4 L878.4 343"/>
        <path d="M909 335.2 L915.2 335.2 Q916.4 335.2 916.4 336.4 L916.4 343"/>
      </g>
      <path d="M897.2 341.8 L897.2 350.2" stroke="#5ba3bd" stroke-width="1.6" fill="none" stroke-linecap="round"/>
      <rect x="885.8" y="323.2" width="23.4" height="17.2" rx="1.2" fill="#2a5a82"/>
      <rect x="887.6" y="325" width="19.8" height="12.4" fill="#62bec8"/>
      <rect x="887.6" y="335.4" width="19.8" height="2" fill="#8fd5db"/>
      <rect x="895" y="328" width="5.6" height="6" rx="0.8" fill="#c6ecef" opacity="0.9"/>
      <path d="M892.6 340 L902.4 340 L901.2 342 L893.8 342 Z" fill="#34668f"/>
      <rect x="894.4" y="338.6" width="6" height="1.6" rx="0.8" fill="#eaf4f8"/>

      <rect x="865.6" y="345.7" width="23.4" height="16.4" rx="1.2" fill="#2a5a82"/>
      <rect x="867.4" y="347.5" width="19.8" height="12.6" fill="#62bec8"/>
      <rect x="867.4" y="358.2" width="19.8" height="1.9" fill="#8fd5db"/>
      <rect x="864.6" y="361.6" width="25.4" height="2.3" rx="1" fill="#2c5c85"/>
      <rect x="875" y="361.6" width="5" height="1.3" fill="#eaf4f8"/>
      <rect x="877" y="351.6" width="5.6" height="4.4" rx="0.8" fill="#d9f2f3" opacity="0.95"/>

      <rect x="905.1" y="345.7" width="23.4" height="16.4" rx="1.2" fill="#2a5a82"/>
      <rect x="906.9" y="347.5" width="19.8" height="12.6" fill="#62bec8"/>
      <rect x="906.9" y="358.2" width="19.8" height="1.9" fill="#8fd5db"/>
      <rect x="904.1" y="361.6" width="25.4" height="2.3" rx="1" fill="#2c5c85"/>
      <rect x="914.4" y="361.6" width="5" height="1.3" fill="#eaf4f8"/>
      <rect x="916" y="352.4" width="8.6" height="4.4" rx="0.8" fill="#d9f2f3" opacity="0.95"/>
    </g>

    <!-- laptop + padlock -->
    <g>
      <rect x="996.2" y="327.7" width="38.4" height="28.3" rx="1.6" fill="#2a5a82"/>
      <rect x="998.8" y="330.4" width="33.6" height="22.6" fill="#5cbdc7"/>
      <rect x="998.8" y="350.6" width="33.6" height="2.4" fill="#9bdbe0"/>
      <rect x="994.6" y="355" width="24" height="3.4" rx="1.2" fill="#34668f"/>
      <rect x="1010" y="355" width="6" height="1.8" fill="#eef4f8"/>
      <path d="M1024 341 L1024 333 A8.85 10.6 0 0 1 1041.7 333 L1041.7 341" fill="none" stroke="#2a5a7e" stroke-width="5"/>
      <rect x="1015.1" y="338.4" width="33.8" height="27.4" rx="3.4" fill="#fbc759"/>
      <path d="M1048.9 341.5 L1048.9 362.4 Q1048.9 365.8 1045.5 365.8 L1018 365.8 Z" fill="#f6b63f" opacity="0.9"/>
      <circle cx="1031.6" cy="349.2" r="4.1" fill="#24506e"/>
      <path d="M1029.9 350 L1033.3 350 L1034 358.8 L1029.2 358.8 Z" fill="#24506e"/>
    </g>
  </g>

  <!-- dashed arrows under cloud -->
  <g stroke="#2c648f" stroke-width="2" fill="none" stroke-dasharray="4.2 4.6">
    <path d="M920.6 411 L920.6 460"/>
    <path d="M1001 409.4 L1001 460"/>
  </g>
  <g fill="#2c648f">
    <path d="M916.8 459.6 L924.4 459.6 L920.6 465.8 Z"/>
    <path d="M997.2 459.2 L1004.8 459.2 L1001 465.4 Z"/>
  </g>

  <!-- ================= TEXT LABELS ================= -->
  <g id="labels">
    <text x="1183.2" y="292.8" font-size="36.3" textLength="95.3" lengthAdjust="spacingAndGlyphs" stroke-width="0.6">Cloud</text>
    <text x="1183.8" y="330.6" font-size="36.6" textLength="93" lengthAdjust="spacingAndGlyphs" stroke-width="0.6">PACS</text>
    <text x="205.6" y="548.4" font-size="28.2" textLength="160.2" lengthAdjust="spacingAndGlyphs" stroke-width="0.6">On-Premise</text>
    <text x="261.2" y="578.1" font-size="27.4" textLength="76" lengthAdjust="spacingAndGlyphs" stroke-width="0.6">PACS</text>
    <text x="704.8" y="566.6" font-size="21" textLength="121.6" lengthAdjust="spacingAndGlyphs" stroke-width="0">Step-y-Step</text>
    <text x="720.5" y="590.5" font-size="21" textLength="57.5" lengthAdjust="spacingAndGlyphs" stroke-width="0">Guide</text>
    <text x="935.2" y="578.9" font-size="21.2" textLength="127.9" lengthAdjust="spacingAndGlyphs" stroke-width="0.25">Accessiblity</text>
  </g>

  <!-- dashed arrow from On-Premise to people -->
  <path d="M397.8 536.7 L537 536.7" stroke="#2c648f" stroke-width="2" fill="none" stroke-dasharray="4.4 4.5"/>
  <path d="M539.4 532.6 L546.4 536.7 L539.4 540.8 L541 536.7 Z" fill="#2c648f"/>
  <!-- dashed arrow from S-curve down to people -->
  <path d="M602.8 431.6 L602.8 466" stroke="#2c648f" stroke-width="2" fill="none" stroke-dasharray="5.6 3.5"/>
  <path d="M599 466 L606.6 466 L602.8 471.8 Z" fill="#2c648f"/>

  <!-- solid arrow step-by-step -->
  <g fill="none" stroke="#3d82b8" stroke-width="5.6" stroke-linecap="round" stroke-linejoin="round">
    <path d="M710 530.5 L840 530.5"/>
    <path d="M830 520.2 L841.2 530.5 L830 540.6"/>
  </g>

  <!-- ================= PEOPLE ================= -->
  <g id="people">
    <defs>
      <linearGradient id="qg" x1="0" y1="0" x2="1" y2="1">
        <stop offset="0" stop-color="#4386b3"/>
        <stop offset="1" stop-color="#3676a3"/>
      </linearGradient>
      <linearGradient id="bodyG" x1="0" y1="0" x2="0" y2="1">
        <stop offset="0" stop-color="#6fc6cc"/>
        <stop offset="1" stop-color="#52b4c2"/>
      </linearGradient>
    </defs>
    <!-- question bubbles -->
    <circle cx="602.8" cy="489.8" r="13.6" fill="url(#qg)"/>
    <circle cx="576.8" cy="507.4" r="13.6" fill="url(#qg)"/>
    <circle cx="627.8" cy="507.4" r="13.6" fill="url(#qg)"/>
    <g font-size="19" style="fill:#ffffff" text-anchor="middle">
      <text x="602.8" y="496.5" style="fill:#ffffff;stroke:#ffffff;stroke-width:0.4px">?</text>
      <text x="576.8" y="514.1" style="fill:#ffffff;stroke:#ffffff;stroke-width:0.4px">?</text>
      <text x="627.8" y="514.1" style="fill:#ffffff;stroke:#ffffff;stroke-width:0.4px">?</text>
    </g>

    <!-- left person -->
    <g>
      <path d="M557.8 574.9 L557.8 568.2 C557.8 561.7 562.8 559.0 569.2 557.2 L581.2 557.2 C587.6 559.0 592.6 561.7 592.6 568.2 L592.6 574.9 Z" fill="url(#bodyG)"/>
      <path d="M557.8 574.9 L557.8 568.2 C557.8 561.7 562.8 559.0 569.2 557.2 L581.2 557.2 C587.6 559.0 592.6 561.7 592.6 568.2 L592.6 574.9" fill="none" stroke="#1e4c6a" stroke-width="2.3" stroke-linejoin="round"/>
      <path d="M570.3 554 L570.3 557.6 Q575.2 563 580.1 557.6 L580.1 554 Z" fill="#ffffff" stroke="#1e4c6a" stroke-width="1.6"/>
      <ellipse cx="575.2" cy="542.8" rx="10.9" ry="12.4" fill="#1e4c6a"/>
      <ellipse cx="575.2" cy="544.6" rx="8.4" ry="9.9" fill="#ffffff"/>
      <path d="M565.7 541 C565.7 533 571.2 530.6 575.2 530.6 C581.2 530.6 585.2 535 584.8 543 C582.2 541.4 577.2 540 574.2 539 C571.7 538 570.2 536.8 569.6 535.6 C568.2 537 566.6 539 565.7 541 Z" fill="#1e4c6a"/>
    </g>
    <!-- right person -->
    <g>
      <path d="M612.5 574.9 L612.5 568.2 C612.5 561.7 617.5 559.0 623.9 557.2 L635.9 557.2 C642.3 559.0 647.3 561.7 647.3 568.2 L647.3 574.9 Z" fill="url(#bodyG)"/>
      <path d="M612.5 574.9 L612.5 568.2 C612.5 561.7 617.5 559.0 623.9 557.2 L635.9 557.2 C642.3 559.0 647.3 561.7 647.3 568.2 L647.3 574.9" fill="none" stroke="#1e4c6a" stroke-width="2.3" stroke-linejoin="round"/>
      <path d="M625.0 554 L625.0 557.6 Q629.9 563 634.8 557.6 L634.8 554 Z" fill="#ffffff" stroke="#1e4c6a" stroke-width="1.6"/>
      <ellipse cx="629.9" cy="542.8" rx="10.9" ry="12.4" fill="#1e4c6a"/>
      <ellipse cx="629.9" cy="544.6" rx="8.4" ry="9.9" fill="#ffffff"/>
      <path d="M620.4 541 C620.4 533 625.9 530.6 629.9 530.6 C635.9 530.6 639.9 535 639.5 543 C636.9 541.4 631.9 540 628.9 539 C626.4 538 624.9 536.8 624.3 535.6 C622.9 537 621.3 539 620.4 541 Z" fill="#1e4c6a"/>
    </g>
    <!-- center person -->
    <g>
      <path d="M581.0 588.2 L581.0 580.0 C581.0 571.0 587.0 567.2 594.9 565 L609.9 565 C617.8 567.2 623.8 571.0 623.8 580.0 L623.8 588.2 Z" fill="url(#bodyG)"/>
      <path d="M581.0 588.2 L581.0 580.0 C581.0 571.0 587.0 567.2 594.9 565 L609.9 565 C617.8 567.2 623.8 571.0 623.8 580.0 L623.8 588.2" fill="none" stroke="#1e4c6a" stroke-width="2.6" stroke-linejoin="round"/>
      <path d="M595.8 561.5 L595.8 565.6 Q602.4 573.6 609.0 565.6 L609.0 561.5 Z" fill="#ffffff" stroke="#1e4c6a" stroke-width="1.8"/>
      <ellipse cx="602.4" cy="546" rx="13.4" ry="16.6" fill="#1e4c6a"/>
      <ellipse cx="602.4" cy="548.2" rx="10.6" ry="13.2" fill="#ffffff"/>
      <path d="M590.6 545 C590.6 534 597.4 529.6 602.4 529.6 C610.4 529.6 614.8 536 614.2 546.5 C611.4 544.6 605.4 543.4 601.4 541.6 C598.4 540.2 596.4 538.6 595.4 537 C593.4 539 591.4 542 590.6 545 Z" fill="#1e4c6a"/>
    </g>
  </g>

  <!-- ================= ICON CIRCLES ================= -->
  <g id="icons">
    <defs>
      <linearGradient id="shieldG" x1="0" y1="0" x2="1" y2="0">
        <stop offset="0" stop-color="#6ec7cf"/>
        <stop offset="0.5" stop-color="#62bccb"/>
        <stop offset="0.5" stop-color="#4fa3c2"/>
        <stop offset="1" stop-color="#4b9bc0"/>
      </linearGradient>
    </defs>
    <circle cx="918.4" cy="512.5" r="30.7" fill="#ffffff"/>
    <circle cx="999.6" cy="512.5" r="30.7" fill="#ffffff"/>
    <circle cx="1080.3" cy="512.5" r="30.7" fill="#ffffff"/>

    <!-- stopwatch -->
    <g>
      <rect x="915.6" y="489.4" width="5.6" height="6.6" fill="#3f7ba5"/>
      <rect x="913.9" y="487.4" width="9" height="2.8" rx="0.8" fill="#3f7ba5"/>
      <path d="M904.4 499.4 L902.4 496.8 L905 494.8 L907.2 497.2 Z" fill="#3f7ba5" stroke="#3f7ba5" stroke-width="1.2" stroke-linejoin="round"/>
      <path d="M932.4 499.4 L934.4 496.8 L931.8 494.8 L929.6 497.2 Z" fill="#3f7ba5" stroke="#3f7ba5" stroke-width="1.2" stroke-linejoin="round"/>
      <circle cx="918.4" cy="513.8" r="18" fill="#ffffff" stroke="#3f7ba5" stroke-width="3.5"/>
      <path d="M918.4 513.8 L918.4 499.2 A14.6 14.6 0 0 1 933 513.8 Z" fill="#f6b244"/>
      <path d="M918.4 513.8 L918.4 500.6" stroke="#2d6a94" stroke-width="1.8" stroke-linecap="round"/>
      <circle cx="918.4" cy="513.8" r="1.5" fill="#2d6a94"/>
      <g fill="#3f7ba5">
        <circle cx="918.4" cy="527.4" r="0.9"/><circle cx="904.8" cy="513.8" r="0.9"/>
        <circle cx="908.8" cy="504.2" r="0.8"/><circle cx="908.8" cy="523.4" r="0.8"/>
        <circle cx="928" cy="523.4" r="0.8"/><circle cx="911.6" cy="525.6" r="0.6"/>
      </g>
    </g>

    <!-- globe -->
    <g fill="none" stroke="#3d75a0" stroke-width="2.8">
      <circle cx="999.6" cy="512" r="19.9"/>
      <ellipse cx="999.6" cy="512" rx="10.4" ry="19.9"/>
      <path d="M999.6 492 L999.6 532"/>
      <path d="M979.6 512 L1019.6 512"/>
      <path d="M981.8 502.8 L1017.4 502.8"/>
      <path d="M981.8 521.2 L1017.4 521.2"/>
    </g>

    <!-- shield -->
    <g>
      <path d="M1080 491.8 C 1086 495.6, 1092 497, 1098.2 497 L1098.2 511 C 1098.2 522, 1090 529.6, 1080 533.4 C 1070 529.6, 1061.8 522, 1061.8 511 L1061.8 497 C 1068 497, 1074 495.6, 1080 491.8 Z" fill="url(#shieldG)"/>
      <path d="M1080 496.6 C 1085 499.4, 1089.6 500.6, 1094.2 500.8 L1094.2 511 C 1094.2 519.6, 1087.8 525.8, 1080 529 C 1072.2 525.8, 1065.8 519.6, 1065.8 511 L1065.8 500.8 C 1070.4 500.6, 1075 499.4, 1080 496.6 Z" fill="none" stroke="#ffffff" stroke-width="1.3" opacity="0.95"/>
    </g>
  </g>
</svg>
</body>
</html>
